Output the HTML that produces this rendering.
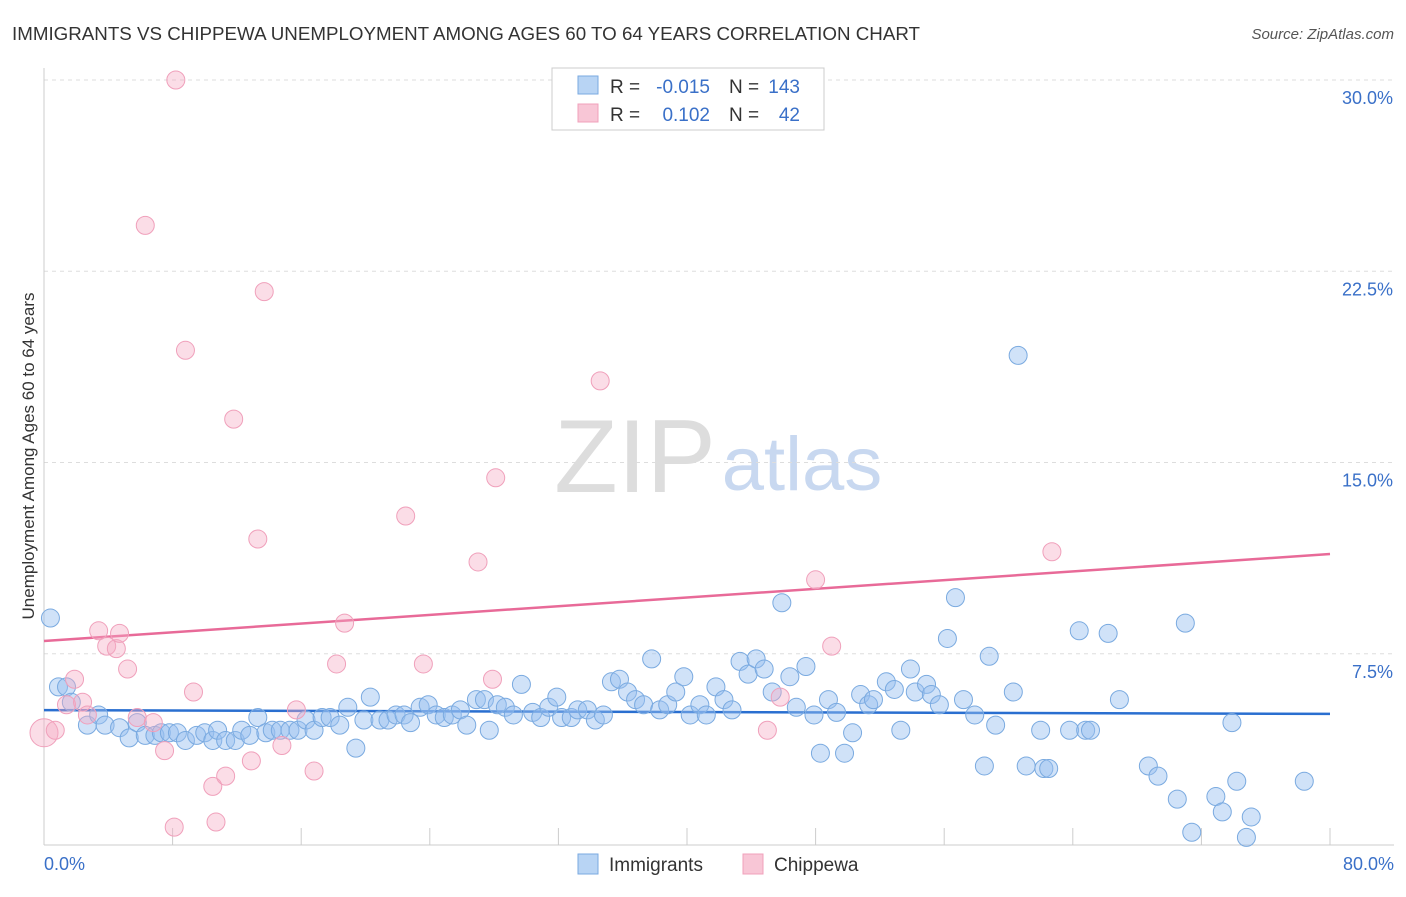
<!DOCTYPE html>
<html><head><meta charset="utf-8"><style>
body{margin:0;background:#fff;font-family:"Liberation Sans",sans-serif}
svg text{font-family:"Liberation Sans",sans-serif}
</style></head><body>
<svg id="chart" width="1406" height="892" viewBox="0 0 1406 892">
<text x="12" y="40" font-size="18" fill="#333" textLength="908" lengthAdjust="spacingAndGlyphs">IMMIGRANTS VS CHIPPEWA UNEMPLOYMENT AMONG AGES 60 TO 64 YEARS CORRELATION CHART</text>
<text x="1394" y="39" font-size="15" fill="#555" font-style="italic" text-anchor="end">Source: ZipAtlas.com</text>
<g>
<text x="635" y="492" font-size="104" font-family="Liberation Serif,serif" fill="#ddd" text-anchor="middle">ZIP</text>
<text x="802" y="490" font-size="76" fill="#c8d8f0" text-anchor="middle">atlas</text>
</g>
<g id="grid"></g><g id="axes"></g><g id="trend"></g><g id="pts"></g>
<text transform="translate(34,456) rotate(-90)" font-size="17" fill="#333" text-anchor="middle">Unemployment Among Ages 60 to 64 years</text>
<g>
<rect x="552" y="68" width="272" height="62" fill="#fff" stroke="#ccc"/>
<rect x="578" y="76" width="20" height="18" fill="#b8d4f4" stroke="#7aaae0"/>
<rect x="578" y="104" width="20" height="18" fill="#f8c6d6" stroke="#f0a0bb"/>
<text x="610" y="93" font-size="19" fill="#333">R =</text>
<text x="710" y="93" font-size="19" fill="#3a70c8" text-anchor="end">-0.015</text>
<text x="729" y="93" font-size="19" fill="#333">N =</text>
<text x="800" y="93" font-size="19" fill="#3a70c8" text-anchor="end">143</text>
<text x="610" y="121" font-size="19" fill="#333">R =</text>
<text x="710" y="121" font-size="19" fill="#3a70c8" text-anchor="end">0.102</text>
<text x="729" y="121" font-size="19" fill="#333">N =</text>
<text x="800" y="121" font-size="19" fill="#3a70c8" text-anchor="end">42</text>
</g>
<g>
<rect x="578" y="854" width="20" height="20" fill="#b8d4f4" stroke="#7aaae0"/>
<text x="609" y="871" font-size="19" fill="#333">Immigrants</text>
<rect x="743" y="854" width="20" height="20" fill="#f8c6d6" stroke="#f0a0bb"/>
<text x="774" y="871" font-size="19" fill="#333">Chippewa</text>
</g>
</svg>
<script>
const yTicks=[7.5,15,22.5,30];
const yTickLabels=["7.5%","15.0%","22.5%","30.0%"];
const xTicks=[0,8,16,24,32,40,48,56,64,72,80];
const xEndLabels=["0.0%","80.0%"];
const immX=[0.4,0.9,1.4,1.7,2.7,3.4,3.8,4.7,5.3,5.8,6.3,6.9,7.3,7.8,8.3,8.8,9.5,10.0,10.5,10.8,11.3,11.9,12.3,12.8,13.3,13.8,14.2,14.7,15.3,15.8,16.3,16.8,17.3,17.8,18.4,18.9,19.4,19.9,20.3,20.9,21.4,21.9,22.4,22.8,23.4,23.9,24.4,24.9,25.4,25.9,26.3,26.9,27.4,27.7,28.2,28.7,29.2,29.7,30.4,30.9,31.4,31.9,32.2,32.8,33.2,33.8,34.3,34.8,35.3,35.8,36.3,36.8,37.3,37.8,38.3,38.8,39.3,39.8,40.2,40.8,41.2,41.8,42.3,42.8,43.3,43.8,44.3,44.8,45.3,45.9,46.4,46.8,47.4,47.9,48.3,48.8,49.3,49.8,50.3,50.8,51.3,51.6,52.4,52.9,53.3,53.9,54.2,54.9,55.2,55.7,56.2,56.7,57.2,57.9,58.5,58.8,59.2,60.3,60.6,61.1,62.0,62.2,62.5,63.8,64.4,64.8,65.1,66.2,66.9,68.7,69.3,70.5,71.0,71.4,72.9,73.3,73.9,74.2,74.8,75.1,78.4];
const immY=[8.9,6.2,6.2,5.6,4.7,5.1,4.7,4.6,4.2,4.8,4.3,4.3,4.4,4.4,4.4,4.1,4.3,4.4,4.1,4.5,4.1,4.1,4.5,4.3,5.0,4.4,4.5,4.5,4.5,4.5,4.9,4.5,5.0,5.0,4.7,5.4,3.8,4.9,5.8,4.9,4.9,5.1,5.1,4.8,5.4,5.5,5.1,5.0,5.1,5.3,4.7,5.7,5.7,4.5,5.5,5.4,5.1,6.3,5.2,5.0,5.4,5.8,5.0,5.0,5.3,5.3,4.9,5.1,6.4,6.5,6.0,5.7,5.5,7.3,5.3,5.5,6.0,6.6,5.1,5.5,5.1,6.2,5.7,5.3,7.2,6.7,7.3,6.9,6.0,9.5,6.6,5.4,7.0,5.1,3.6,5.7,5.2,3.6,4.4,5.9,5.5,5.7,6.4,6.1,4.5,6.9,6.0,6.3,5.9,5.5,8.1,9.7,5.7,5.1,3.1,7.4,4.7,6.0,19.2,3.1,4.5,3.0,3.0,4.5,8.4,4.5,4.5,8.3,5.7,3.1,2.7,1.8,8.7,0.5,1.9,1.3,4.8,2.5,0.3,1.1,2.5];
const chiX=[0,0.7,1.4,1.9,2.4,2.7,3.4,3.9,4.5,4.7,5.2,5.8,6.3,6.8,7.5,8.1,8.2,8.8,9.3,10.5,10.7,11.3,11.8,12.9,13.3,13.7,14.8,15.7,16.8,18.2,18.7,22.5,23.6,27.0,27.9,28.1,34.6,45.0,45.8,48.0,49.0,62.7];
const chiY=[4.4,4.5,5.5,6.5,5.6,5.1,8.4,7.8,7.7,8.3,6.9,5.0,24.3,4.8,3.7,0.7,30.0,19.4,6.0,2.3,0.9,2.7,16.7,3.3,12.0,21.7,3.9,5.3,2.9,7.1,8.7,12.9,7.1,11.1,6.5,14.4,18.2,4.5,5.8,10.4,7.8,11.5];
const immTrend=[5.29,5.14];
const chiTrend=[8.0,11.41];
const NS="http://www.w3.org/2000/svg";
const X=v=>44+v*(1286/80), Y=v=>845-v*25.5;
function mk(p,t,a){const e=document.createElementNS(NS,t);for(const k in a)e.setAttribute(k,a[k]);p.appendChild(e);return e;}
const g=document.getElementById('grid'),ax=document.getElementById('axes'),tr=document.getElementById('trend'),pts=document.getElementById('pts');
yTicks.forEach((t,i)=>{
 const l=mk(g,'line',{x1:44,x2:1394,y1:Y(t),y2:Y(t),stroke:'#ddd','stroke-dasharray':'4,4'});
 
 
 const tx=mk(g,'text',{x:1393,y:Y(t)+24,'font-size':18,fill:'#3a70c8','text-anchor':'end'});
 tx.textContent=yTickLabels[i];
 
 
});
const yl=mk(ax,'line',{x1:44,x2:44,y1:68,y2:845,stroke:'#ccc'});


const xl=mk(ax,'line',{x1:44,x2:1394,y1:845,y2:845,stroke:'#ccc'});


xTicks.forEach(t=>{
 const l=mk(ax,'line',{x1:X(t),x2:X(t),y1:828,y2:845,stroke:'#ccc'});
 
 
});
[[0,'start',44],[80,'end',1394]].forEach((d,i)=>{
 const tx=mk(ax,'text',{x:d[2],y:870,'font-size':18,fill:'#3a70c8','text-anchor':d[1]});
 tx.textContent=xEndLabels[i];
 
 
});
immX.forEach((v,i)=>{
 const c=mk(pts,'circle',{cx:X(v),cy:Y(immY[i]),r:9,fill:'rgba(150,190,240,0.45)',stroke:'#7aaae0','stroke-width':1});
 
 
});
chiX.forEach((v,i)=>{
 const c=mk(pts,'circle',{cx:X(v),cy:Y(chiY[i]),r:i==0?14:9,fill:'rgba(245,170,195,0.4)',stroke:'#f0a0bb','stroke-width':1});
 
 
});
const t1=mk(tr,'line',{x1:X(0),x2:X(80),y1:Y(immTrend[0]),y2:Y(immTrend[1]),stroke:'#2a6fd0','stroke-width':2.5});


const t2=mk(tr,'line',{x1:X(0),x2:X(80),y1:Y(chiTrend[0]),y2:Y(chiTrend[1]),stroke:'#e86a98','stroke-width':2.5});


</script>
</body></html>
